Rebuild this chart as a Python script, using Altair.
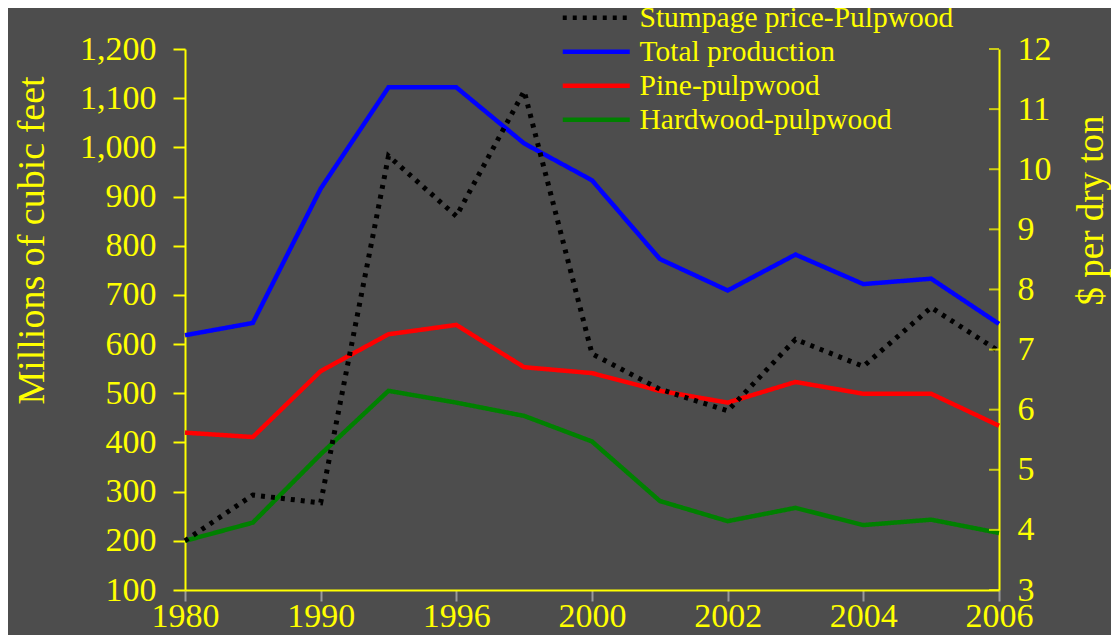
import altair as alt
import pandas as pd

# ---- data ----
x_labels = ["1980", "1990", "1996", "2000", "2002", "2004", "2006"]
n_points = 13  # a point every half label step
total = [618, 643, 916, 1122, 1122, 1008, 933, 773, 709, 782, 722, 733, 641]
pine = [420, 411, 545, 620, 639, 553, 541, 505, 481, 523, 499, 499, 434]
hardwood = [200, 237, 376, 505, 481, 454, 402, 281, 240, 267, 232, 243, 216]
price = [3.82, 4.58, 4.45, 10.22, 9.22, 11.3, 6.93, 6.34, 5.98, 7.17, 6.72, 7.7, 6.97]
left_ticks = list(range(100, 1300, 100))
right_ticks = list(range(3, 13))
series = ["Stumpage price-Pulpwood", "Total production", "Pine-pulpwood", "Hardwood-pulpwood"]
colors = ["#000000", "#0000ff", "#ff0000", "#008000"]
dashes = [[4, 6], [1, 0], [1, 0], [1, 0]]

FONT = "Liberation Serif"
YEL = "#ffff00"
W, H = 814, 541

idx = list(range(n_points))
left_df = pd.concat([
    pd.DataFrame({"i": idx, "v": total, "series": series[1]}),
    pd.DataFrame({"i": idx, "v": pine, "series": series[2]}),
    pd.DataFrame({"i": idx, "v": hardwood, "series": series[3]}),
])
price_df = pd.DataFrame({"i": idx, "p": price, "series": series[0]})
rtick_df = pd.DataFrame({"p": right_ticks})

label_expr = "[" + ",".join(f"'{l}'" for l in x_labels) + "][round(datum.value/2)]"

x_enc = alt.X(
    "i:Q",
    scale=alt.Scale(domain=[0, n_points - 1], nice=False, zero=False),
    axis=alt.Axis(
        values=list(range(0, n_points, 2)), labelExpr=label_expr, title="",
        domainColor=YEL, domainWidth=2, tickColor="#9a9a9a", tickSize=11, tickWidth=2,
        labelColor=YEL, labelFont=FONT, labelFontSize=34, labelPadding=32,
        labelBaseline="bottom",
        grid=False, labelFlush=False,
    ),
)

legend = alt.Legend(
    title=None, orient="none", legendX=396.5, legendY=-46,
    symbolType="M-3.35,0H3.35", symbolSize=400, symbolStrokeWidth=4.5,
    labelFont=FONT, labelFontSize=29.5, labelColor=YEL, labelLimit=0,
    rowPadding=3, labelOffset=28.5, padding=0,
)
color_enc = alt.Color("series:N", scale=alt.Scale(domain=series, range=colors), legend=legend)
dash_enc = alt.StrokeDash("series:N", scale=alt.Scale(domain=series, range=dashes), legend=legend)

left = alt.Chart(left_df).mark_line(strokeWidth=4.5).encode(
    x=x_enc,
    y=alt.Y(
        "v:Q",
        scale=alt.Scale(domain=[100, 1200], nice=False, zero=False),
        axis=alt.Axis(
            orient="left", values=left_ticks, labelExpr="format(datum.value, ',')", grid=False,
            title="Millions of cubic feet", titleColor=YEL, titleFont=FONT, titleFontSize=38,
            titleFontWeight="normal", titleAngle=270, titleX=-142, titleY=191,
            titleBaseline="alphabetic", titleAlign="center",
            domainColor=YEL, domainWidth=2, tickColor=YEL, tickSize=12, tickWidth=2,
            labelColor=YEL, labelFont=FONT, labelFontSize=34, labelPadding=17,
        ),
    ),
    color=color_enc,
    strokeDash=dash_enc,
)

right_line = alt.Chart(price_df).mark_line(strokeWidth=5, strokeCap="butt").encode(
    x=x_enc,
    y=alt.Y(
        "p:Q",
        scale=alt.Scale(domain=[3, 12], nice=False, zero=False),
        axis=alt.Axis(
            orient="right", values=right_ticks, labelExpr="format(datum.value, 'd')",
            grid=False, ticks=False, tickSize=0,
            title="$ per dry ton", titleColor=YEL, titleFont=FONT, titleFontSize=37,
            titleFontWeight="normal", titleAngle=270, titleX=103, titleY=161,
            titleBaseline="alphabetic", titleAlign="center",
            domainColor=YEL, domainWidth=2,
            labelColor=YEL, labelFont=FONT, labelFontSize=34, labelPadding=18,
        ),
    ),
    color=color_enc,
    strokeDash=dash_enc,
)

right_ticks_layer = alt.Chart(rtick_df).mark_tick(
    orient="horizontal", size=10, thickness=2, color=YEL, xOffset=-5
).encode(
    x=alt.datum(n_points - 1),
    y=alt.Y("p:Q", scale=alt.Scale(domain=[3, 12], nice=False, zero=False)),
)

right = alt.layer(right_line, right_ticks_layer)

chart = alt.layer(left, right).resolve_scale(y="independent").properties(
    width=W, height=H,
    autosize=alt.AutoSizeParams(type="none"),
    padding={"left": 177, "top": 41, "right": 112, "bottom": 45},
    background="#4d4d4d",
).configure_view(strokeWidth=0)

chart.save("out.html", embed_options={"renderer": "svg", "actions": False})
